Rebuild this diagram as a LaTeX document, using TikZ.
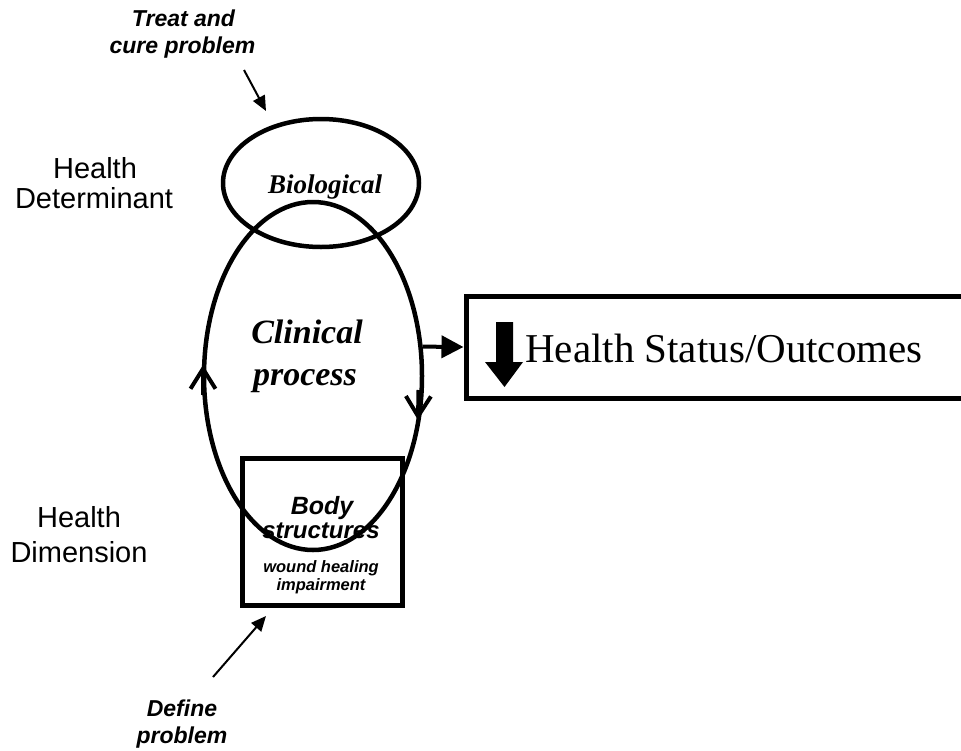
\documentclass[tikz,border=0pt]{standalone}
\usepackage{fontspec}
\setmainfont{Liberation Serif}
\setsansfont{Liberation Sans}
\usetikzlibrary{shapes.geometric,arrows.meta}
\begin{document}
\begin{tikzpicture}[x=1pt,y=-1pt,
  lbl/.style={font=\sffamily\fontsize{29}{33}\selectfont, anchor=base, inner sep=0},
  note/.style={font=\sffamily\bfseries\itshape\fontsize{23}{27}\selectfont, anchor=base, inner sep=0},
  oval/.style={ellipse, draw, line width=4.5pt, inner sep=0},
  thinarrow/.style={line width=2pt, -{Triangle[length=15pt,width=13pt]}},
  barb/.style={line width=4pt, -{Straight Barb[length=20pt,width=25pt,line width=4pt]}}
]
\useasboundingbox (0,0) rectangle (961,750);
\clip (0,0) rectangle (961,750);
\fill[white] (0,0) rectangle (961,750);

% left labels
\node[lbl] (hd1) at (95,178) {Health};
\node[lbl] (hd2) at (94,208) {Determinant};
\node[lbl] (hm1) at (79,527) {Health};
\node[lbl] (hm2) at (79,562) {Dimension};

% top note
\node[note] (tr1) at (183.5,26) {Treat and};
\node[note] (tr2) at (182.5,53) {cure problem};
\coordinate (ta) at (244,70);
\coordinate (tb) at (266,111);
\draw[thinarrow] (ta) -- (tb);

% ellipses
\node[oval, minimum width=196pt, minimum height=128pt] (bio) at (321,183) {};
\node[font=\bfseries\itshape\fontsize{27}{31}\selectfont, anchor=base, inner sep=0] (biot) at (325,193) {Biological};

\node[oval, line width=4.5pt, minimum width=218pt, minimum height=348pt] (clin) at (313,376) {};
\node[font=\bfseries\itshape\fontsize{34}{38}\selectfont, anchor=base, inner sep=0] (clt1) at (307,343) {Clinical};
\node[font=\bfseries\itshape\fontsize{34}{38}\selectfont, anchor=base, inner sep=0] (clt2) at (305,385) {process};

% arrowheads on clinical loop
\coordinate (la1) at (203,395);
\coordinate (la2) at (203,365);
\draw[barb] (la1) -- (la2);
\coordinate (ra1) at (418.5,390);
\coordinate (ra2) at (418,420);
\draw[barb] (ra1) -- (ra2);

% health status box
\node[draw, line width=5pt, minimum width=504pt, minimum height=102pt, inner sep=0] (hs) at (718,347) {};
\fill (496,322) -- (513,322) -- (513,362) -- (523,362) -- (504.5,387) -- (485,362) -- (496,362) -- cycle;
\node[font=\fontsize{41}{45}\selectfont, anchor=base west, inner sep=0] (hst) at (525,362) {Health Status/Outcomes};
\draw[line width=4pt, -{Triangle[length=22pt,width=22pt]}] (clin.15) -- (hs.west);

% body structures box
\node[draw, line width=5pt, minimum width=160pt, minimum height=147pt, inner sep=0] (body) at (322,531.5) {};
\node[font=\sffamily\bfseries\itshape\fontsize{25}{29}\selectfont, anchor=base, inner sep=0] (bt1) at (322,514) {Body};
\node[font=\sffamily\bfseries\itshape\fontsize{24}{28}\selectfont, anchor=base, inner sep=0] (bt2) at (321,538) {structures};
\node[font=\sffamily\bfseries\itshape\fontsize{16.5}{19}\selectfont, anchor=base, inner sep=0] (bt3) at (321,572) {wound healing};
\node[font=\sffamily\bfseries\itshape\fontsize{16.5}{19}\selectfont, anchor=base, inner sep=0] (bt4) at (321,590) {impairment};

% bottom note
\node[note] (df1) at (182,716) {Define};
\node[note] (df2) at (182,743) {problem};
\coordinate (da) at (213,677);
\coordinate (db) at (266,616);
\draw[thinarrow] (da) -- (db);
\end{tikzpicture}
\end{document}
